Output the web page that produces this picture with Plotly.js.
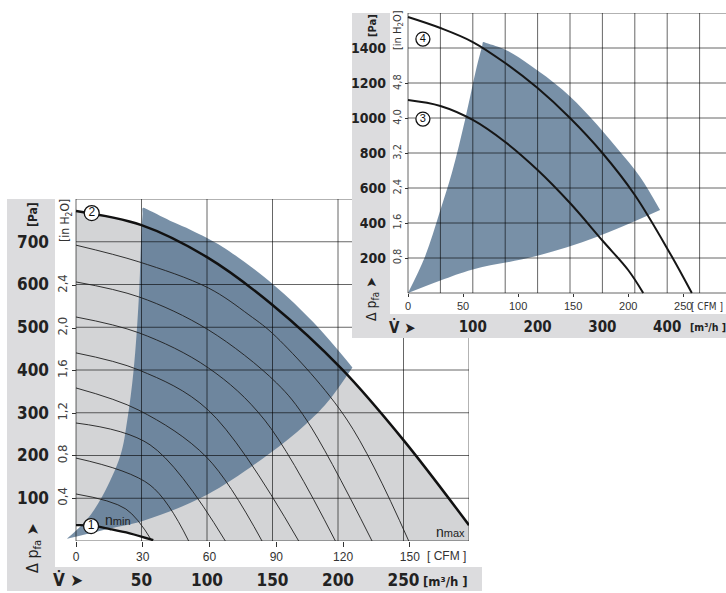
<!DOCTYPE html>
<html><head><meta charset="utf-8">
<script src="https://cdn.plot.ly/plotly-3.0.1.min.js"></script>
<style>html,body{margin:0;padding:0;background:#fff}#chart{width:726px;height:593px}</style>
</head><body><div id="chart"></div>
<script>
// ===== DATA: main chart (flow m³/h, pressure Pa) =====
const nMaxFlow = [0, 50, 100, 150, 203, 250, 300];
const nMaxPa   = [772, 739, 664, 552, 402, 236, 37];
const nMinFlow = [0, 12, 26, 41, 59];
const nMinPa   = [37, 36, 28, 18, 2];
const lineAFlow = [0, 48, 101, 132, 153, 207, 254];
const lineAPa   = [692, 653, 592, 529, 477, 283, 0];
const lineBFlow = [0, 48, 101, 153, 176, 226];
const lineBPa   = [606, 571, 494, 370, 283, 0];
const lineCFlow = [0, 48, 101, 144, 198];
const lineCPa   = [524, 487, 405, 283, 0];
const lineDFlow = [0, 48, 101, 170];
const lineDPa   = [440, 400, 306, 0];
const lineEFlow = [0, 48, 100, 142];
const lineEPa   = [358, 306, 195, 0];
const lineFFlow = [0, 56.5, 114];
const lineFPa   = [276, 225, 0];
const lineGFlow = [0, 56.5, 86];
const lineGPa   = [194, 131, 0];
const lineHFlow = [0, 38, 58];
const lineHPa   = [110, 75, 0];
// operating range (blue) of main chart
const areaLowFlow = [-7, 21, 52, 100, 147, 175, 192, 211];
const areaLowPa   = [5, 26, 48, 108, 203, 272, 325, 406];
const areaTopFlow = [-7, 8, 20, 34, 39, 44, 48, 50, 50.8, 51, 56, 74, 88, 112, 151, 181, 211];
const areaTopPa   = [5, 49, 104, 201, 280, 400, 571, 727, 765, 779, 773, 746, 727, 688, 599, 512, 406];
const mainCurveLabels = ['2', '1'];
const mainLabelFlow = [12, 11.5];
const mainLabelPa = [767, 35];
// ticks main
const mainGridFlow = [0, 50, 100, 150, 200, 250, 300];
const mainGridPa = [0, 100, 200, 300, 400, 500, 600, 700, 800];
const mainFlowTicks = [50, 100, 150, 200, 250];
const mainPaTicks = [100, 200, 300, 400, 500, 600, 700];
const mainCfmTicks = [0, 30, 60, 90, 120, 150];
const mainInTicks = [0.4, 0.8, 1.2, 1.6, 2.0, 2.4];
const mainInText = ['0,4', '0,8', '1,2', '1,6', '2,0', '2,4'];

// ===== DATA: top-right chart =====
const curve4Flow = [0, 50, 100, 150, 200, 250, 300, 350, 404, 438];
const curve4Pa   = [1577, 1514, 1434, 1314, 1171, 1000, 800, 560, 229, 0];
const curve3Flow = [0, 50, 100, 150, 200, 250, 300, 340, 363];
const curve3Pa   = [1103, 1069, 989, 863, 703, 514, 300, 130, 0];
const trLowFlow = [0, 50, 100, 195, 292, 389];
const trLowPa   = [0, 72, 135, 208, 322, 474];
const trTopFlow = [0, 26, 49, 68, 88, 106, 114.5, 116, 122, 151, 188, 239, 281, 322, 358, 389];
const trTopPa   = [0, 206, 463, 690, 989, 1291, 1412, 1434, 1427, 1389, 1303, 1160, 1006, 830, 665, 474];
const trCurveLabels = ['4', '3'];
const trLabelFlow = [23, 23];
const trLabelPa = [1451, 994];
const trGridFlow = [0, 50, 100, 150, 200, 250, 300, 350, 400, 450];
const trGridPa = [0, 200, 400, 600, 800, 1000, 1200, 1400, 1600];
const trFlowTicks = [100, 200, 300, 400];
const trPaTicks = [200, 400, 600, 800, 1000, 1200, 1400];
const trCfmTicks = [0, 50, 100, 150, 200, 250];
const trInTicks = [0.8, 1.6, 2.4, 3.2, 4.0, 4.8];
const trInText = ['0,8', '1,6', '2,4', '3,2', '4,0', '4,8'];

const CFM = 1.699, INH2O = 249.089;

// ===== geometry (layout only) =====
const W = 726, H = 593;
const px = v => v / W, py = v => 1 - v / H;
const mX0 = 76, mX1 = 469, mY0 = 541, mY1 = 199, mXmax = 300, mYmax = 800, mLeft = 60;
const mSx = (mX1 - mX0) / mXmax;
const mXr = [(mLeft - mX0) / mSx, mXmax];
const tX0 = 408, tY0 = 293, tY1 = 13, tYmax = 1600, tSx = 0.648, tLeft = 352, tRight = 726, tBottom = 338;
const tSy = (tY0 - tY1) / tYmax;
const tXr = [(tLeft - tX0) / tSx, (tRight - tX0) / tSx];
const tYr = [(tY0 - tBottom) / tSy, tYmax];
const tx = p => (p - tX0) / tSx, ty = p => (tY0 - p) / tSy;

const FN = "'Liberation Sans Narrow', 'Arial Narrow', 'DejaVu Sans Condensed', sans-serif";
const FR = "'Liberation Sans', Arial, sans-serif";
const FRAME = '#dcdcde', GRAYR = '#d3d4d6', BLUE = 'rgba(80,110,140,0.77)', GRID = 'rgba(0,0,0,0.6)';

const base = {type: 'scatter', hoverinfo: 'skip', showlegend: false};
function curve(x, y, ax, ay, w, c) {
  return Object.assign({}, base, {mode: 'lines', x, y, xaxis: ax, yaxis: ay, line: {width: w, color: c, shape: 'spline'}});
}
function fillTrace(x, y, ax, ay, fill, color) {
  return Object.assign({}, base, {mode: 'lines', x, y, xaxis: ax, yaxis: ay, fill, fillcolor: color, line: {width: 0, shape: 'spline'}});
}
function grid(xs, ys, xmin, xmax, ymin, ymax, ax, ay) {
  const gx = [], gy = [];
  xs.forEach(v => { gx.push(v, v, null); gy.push(ymin, ymax, null); });
  ys.forEach(v => { gx.push(xmin, xmax, null); gy.push(v, v, null); });
  return Object.assign({}, base, {mode: 'lines', x: gx, y: gy, xaxis: ax, yaxis: ay, line: {width: 1, color: GRID}});
}
function labels(x, y, t, ax, ay, size, fs) {
  return Object.assign({}, base, {mode: 'markers+text', x, y, text: t, xaxis: ax, yaxis: ay,
    marker: {size, color: '#fff', line: {width: 1.3, color: '#111'}},
    textposition: 'middle center', textfont: {family: FR, size: fs, color: '#111'}});
}
function dummy(ax, ay) {
  return Object.assign({}, base, {mode: 'markers', x: [0], y: [0], xaxis: ax, yaxis: ay, marker: {opacity: 0}});
}

const thinF = [lineAFlow, lineBFlow, lineCFlow, lineDFlow, lineEFlow, lineFFlow, lineGFlow, lineHFlow];
const thinP = [lineAPa, lineBPa, lineCPa, lineDPa, lineEPa, lineFPa, lineGPa, lineHPa];

const traces = [
  fillTrace(nMaxFlow, nMaxPa, 'x', 'y', 'tozeroy', GRAYR),
  fillTrace(nMinFlow, nMinPa, 'x', 'y', 'tozeroy', '#ffffff'),
  fillTrace(areaLowFlow, areaLowPa, 'x', 'y', 'none', BLUE),
  fillTrace(areaTopFlow, areaTopPa, 'x', 'y', 'tonexty', BLUE),
  grid(mainGridFlow, mainGridPa, 0, mXmax, 0, mYmax, 'x', 'y'),
];
thinF.forEach((f, i) => traces.push(curve(f, thinP[i], 'x', 'y', 0.9, '#1e1e1e')));
traces.push(curve(nMaxFlow, nMaxPa, 'x', 'y', 2.5, '#111'));
traces.push(curve(nMinFlow, nMinPa, 'x', 'y', 2.3, '#111'));
traces.push(labels(mainLabelFlow, mainLabelPa, mainCurveLabels, 'x', 'y', 15, 12));
traces.push(dummy('x3', 'y'), dummy('x', 'y3'));
// top-right
traces.push(
  fillTrace(trLowFlow, trLowPa, 'x2', 'y2', 'none', BLUE),
  fillTrace(trTopFlow, trTopPa, 'x2', 'y2', 'tonexty', BLUE),
  grid(trGridFlow, trGridPa, 0, tXr[1], 0, tYmax, 'x2', 'y2'),
  curve(curve4Flow, curve4Pa, 'x2', 'y2', 2, '#161616'),
  curve(curve3Flow, curve3Pa, 'x2', 'y2', 2, '#161616'),
  labels(trLabelFlow, trLabelPa, trCurveLabels, 'x2', 'y2', 14, 11),
  dummy('x4', 'y2'), dummy('x2', 'y4')
);

const noGrid = {showgrid: false, zeroline: false, showline: false, fixedrange: true};
const layout = {
  width: W, height: H, margin: {l: 0, r: 0, t: 0, b: 0},
  paper_bgcolor: '#fff', plot_bgcolor: '#fff', showlegend: false,
  xaxis: Object.assign({}, noGrid, {domain: [px(mLeft), px(mX1)], range: mXr, anchor: 'free', position: py(568),
    ticks: '', tickvals: mainFlowTicks, tickfont: {family: FN, size: 17, weight: 'bold', color: '#222'}}),
  yaxis: Object.assign({}, noGrid, {domain: [py(mY0), py(mY1)], range: [0, mYmax], anchor: 'free', position: px(49),
    ticks: '', tickvals: mainPaTicks, tickfont: {family: FN, size: 17, weight: 'bold', color: '#222'}}),
  xaxis3: Object.assign({}, noGrid, {overlaying: 'x', range: [mXr[0] / CFM, mXr[1] / CFM], anchor: 'y', side: 'bottom',
    ticks: 'outside', ticklen: 5, tickwidth: 1, tickcolor: '#333', tickvals: mainCfmTicks,
    tickfont: {family: FR, size: 12, color: '#333'}}),
  yaxis3: Object.assign({}, noGrid, {overlaying: 'y', range: [0, mYmax / INH2O], anchor: 'free', position: px(mX0),
    ticks: 'outside', ticklen: 4, tickwidth: 1, tickcolor: '#333', tickvals: mainInTicks, ticktext: mainInText,
    tickangle: -90, tickfont: {family: FN, size: 13, color: '#444'}}),
  xaxis2: Object.assign({}, noGrid, {domain: [px(tLeft), 1], range: tXr, anchor: 'free', position: py(316),
    ticks: '', tickvals: trFlowTicks, tickfont: {family: FN, size: 15, weight: 'bold', color: '#222'}}),
  yaxis2: Object.assign({}, noGrid, {domain: [py(tBottom), py(tY1)], range: tYr, anchor: 'free', position: px(386),
    ticks: '', tickvals: trPaTicks, tickfont: {family: FN, size: 14, weight: 'bold', color: '#222'}}),
  xaxis4: Object.assign({}, noGrid, {overlaying: 'x2', range: [tXr[0] / CFM, tXr[1] / CFM], anchor: 'free', position: py(tY0),
    ticks: 'outside', ticklen: 3, tickwidth: 1, tickcolor: '#333', tickvals: trCfmTicks,
    tickfont: {family: FR, size: 11, color: '#333'}}),
  yaxis4: Object.assign({}, noGrid, {overlaying: 'y2', range: [tYr[0] / INH2O, tYr[1] / INH2O], anchor: 'free', position: px(tX0),
    ticks: 'outside', ticklen: 3, tickwidth: 1, tickcolor: '#333', tickvals: trInTicks, ticktext: trInText,
    tickangle: -90, tickfont: {family: FN, size: 11, color: '#444'}}),
  shapes: [
    {type: 'rect', xref: 'paper', yref: 'paper', x0: px(7), x1: px(55), y0: py(591), y1: py(mY1), fillcolor: FRAME, line: {width: 0}, layer: 'below'},
    {type: 'rect', xref: 'paper', yref: 'paper', x0: px(7), x1: px(482), y0: py(591), y1: py(567), fillcolor: FRAME, line: {width: 0}, layer: 'below'},
    {type: 'rect', xref: 'x2', yref: 'y2', x0: tXr[0], x1: tx(390), y0: tYr[0], y1: tYmax, fillcolor: FRAME, line: {width: 0}, layer: 'below'},
    {type: 'rect', xref: 'x2', yref: 'y2', x0: tXr[0], x1: tXr[1], y0: tYr[0], y1: ty(314), fillcolor: FRAME, line: {width: 0}, layer: 'below'}
  ],
  annotations: []
};
function ann(text, x, y, font, extra) {
  layout.annotations.push(Object.assign({text, xref: 'paper', yref: 'paper', x: px(x), y: py(y), showarrow: false,
    xanchor: 'center', yanchor: 'middle', font}, extra || {}));
}
// main chart texts
ann('[Pa]', 33, 215, {family: FN, size: 12, weight: 'bold', color: '#222'}, {textangle: -90});
ann('[in H<sub>2</sub>O]', 66, 221, {family: FN, size: 12, color: '#333'}, {textangle: -90});
ann('Δ p<sub>fa</sub> ➤', 33, 548, {family: FN, size: 16, color: '#222'}, {textangle: -90});
ann('V̇ ➤', 68, 580, {family: FN, size: 17, weight: 'bold', color: '#222'});
ann('[m³/h ]', 445, 581, {family: FN, size: 13, weight: 'bold', color: '#222'});
ann('[ CFM ]', 446, 556, {family: FR, size: 12, color: '#333'});
ann('n<span style="font-size:11px">min</span>', 118, 520, {family: FR, size: 14, color: '#222'});
ann('n<span style="font-size:11px">max</span>', 450, 532, {family: FR, size: 14, color: '#222'});
// top-right texts
ann('[Pa]', 372, 25, {family: FN, size: 11, weight: 'bold', color: '#222'}, {textangle: -90});
ann('[in H<sub>2</sub>O]', 398, 30, {family: FN, size: 11, color: '#333'}, {textangle: -90});
ann('Δ p<sub>fa</sub> ➤', 372, 299, {family: FN, size: 14, color: '#222'}, {textangle: -90});
ann('V̇ ➤', 402, 327, {family: FN, size: 15, weight: 'bold', color: '#222'});
ann('[m³/h ]', 688, 327, {family: FN, size: 10.5, weight: 'bold', color: '#222'}, {xanchor: 'left'});
ann('[ CFM ]', 689, 306, {family: FN, size: 10, color: '#333'}, {xanchor: 'left'});

Plotly.newPlot('chart', traces, layout, {staticPlot: true, displayModeBar: false}).then(() => {
  document.querySelectorAll('#chart text').forEach(t => { if (!t.textContent.trim()) t.remove(); });
});
</script></body></html>
